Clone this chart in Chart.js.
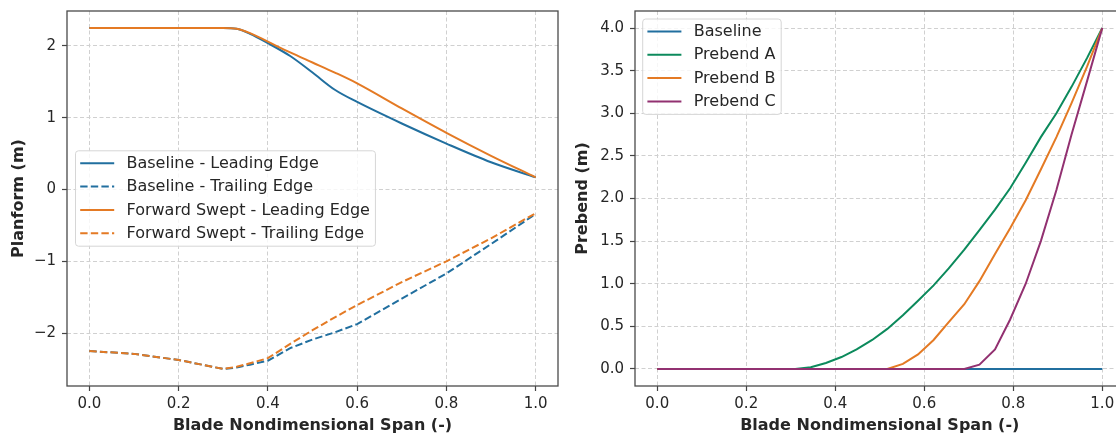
<!DOCTYPE html>
<html>
<head>
<meta charset="utf-8">
<title>Planform and Prebend</title>
<script src="https://cdn.jsdelivr.net/npm/chart.js@4.4.0/dist/chart.umd.min.js"></script>
<style>
  html, body { margin: 0; padding: 0; background: #fff; overflow: hidden; }
  #wrap { position: relative; width: 1116px; height: 434px; overflow: hidden; }
  #planform { position: absolute; left: 0; top: 0; }
  #prebend { position: absolute; left: 560px; top: 0; }
</style>
</head>
<body>
<div id="wrap">
  <canvas id="planform" width="560" height="434"></canvas>
  <canvas id="prebend" width="580" height="434"></canvas>
</div>
<script>
// ---- data ----
const spanL = [0, 0.1, 0.2, 0.3, 0.33, 0.36, 0.4, 0.45, 0.5, 0.55, 0.6, 0.7, 0.8, 0.9, 1.0];
const baseLE = [2.25, 2.25, 2.25, 2.25, 2.24, 2.17, 2.04, 1.86, 1.63, 1.39, 1.22, 0.92, 0.64, 0.38, 0.17];
const baseTE = [-2.25, -2.29, -2.375, -2.5, -2.48, -2.44, -2.385, -2.21, -2.09, -1.99, -1.875, -1.52, -1.17, -0.76, -0.34];
const fwdLE = [2.25, 2.25, 2.25, 2.25, 2.24, 2.18, 2.06, 1.91, 1.77, 1.63, 1.48, 1.13, 0.79, 0.47, 0.17];
const fwdTE = [-2.25, -2.29, -2.375, -2.5, -2.47, -2.42, -2.35, -2.15, -1.96, -1.78, -1.61, -1.29, -1.0, -0.68, -0.33];

const spanR = [0, 0.034, 0.069, 0.103, 0.138, 0.172, 0.207, 0.241, 0.276, 0.31,
  0.345, 0.379, 0.414, 0.448, 0.483, 0.517, 0.552, 0.586, 0.621, 0.655,
  0.69, 0.724, 0.759, 0.793, 0.828, 0.862, 0.897, 0.931, 0.966, 1.0];
const prebendBase = [0, 0, 0, 0, 0, 0, 0, 0, 0, 0,
  0, 0, 0, 0, 0, 0, 0, 0, 0, 0,
  0, 0, 0, 0, 0, 0, 0, 0, 0, 0];
const prebendA = [0, 0, 0, 0, 0, 0, 0, 0, 0, 0,
  0.02, 0.07, 0.14, 0.23, 0.34, 0.47, 0.63, 0.80, 0.98, 1.18,
  1.40, 1.63, 1.87, 2.12, 2.42, 2.72, 3.0, 3.31, 3.65, 4.0];
const prebendB = [0, 0, 0, 0, 0, 0, 0, 0, 0, 0,
  0, 0, 0, 0, 0, 0, 0.06, 0.17, 0.34, 0.55,
  0.76, 1.03, 1.35, 1.65, 1.98, 2.34, 2.72, 3.12, 3.55, 4.0];
const prebendC = [0, 0, 0, 0, 0, 0, 0, 0, 0, 0,
  0, 0, 0, 0, 0, 0, 0, 0, 0, 0,
  0, 0.05, 0.23, 0.58, 1.0, 1.5, 2.1, 2.75, 3.38, 4.0];

const spanTicks = [0, 0.2, 0.4, 0.6, 0.8, 1.0];
const planformTicks = [-2, -1, 0, 1, 2];
const prebendTicks = [0, 0.5, 1.0, 1.5, 2.0, 2.5, 3.0, 3.5, 4.0];

const planformLabels = ['Baseline - Leading Edge', 'Baseline - Trailing Edge',
  'Forward Swept - Leading Edge', 'Forward Swept - Trailing Edge'];
const prebendLabels = ['Baseline', 'Prebend A', 'Prebend B', 'Prebend C'];

const BLUE = '#216f9f', ORANGE = '#e47a24', GREEN = '#0c8a5c', PURPLE = '#923171';
const TEXT = '#262626';
const FONT = '"DejaVu Sans", "Liberation Sans", sans-serif';

function pts(xs, ys) {
  return xs.map((x, i) => ({ x: x, y: ys[i] }));
}

function line(label, xs, ys, color, dashed, order, smooth) {
  return {
    label: label,
    data: pts(xs, ys),
    borderColor: color,
    backgroundColor: color,
    borderWidth: 2,
    borderDash: dashed ? [7.4, 3.2] : [],
    pointRadius: 0,
    fill: false,
    order: order,
    cubicInterpolationMode: smooth ? 'monotone' : 'default',
    tension: 0
  };
}

// frame on all four sides + legend box like matplotlib
function framePlugin(legendOpts) {
  return {
    id: 'frameLegend',
    afterDraw(chart) {
      const ctx = chart.ctx;
      const a = chart.chartArea;
      ctx.save();
      ctx.strokeStyle = '#4a4a4a';
      ctx.lineWidth = 1.3;
      ctx.strokeRect(a.left, a.top, a.right - a.left, a.bottom - a.top);

      const ds = chart.data.datasets;
      ctx.font = '16px ' + FONT;
      let maxW = 0;
      ds.forEach(d => { maxW = Math.max(maxW, ctx.measureText(d.label).width); });
      const rowH = 23.3;
      const boxW = 4.7 + 34 + 12.3 + maxW + 5.5;
      const boxH = 12.5 + rowH * (ds.length - 1) + 13;
      const bx = a.left + legendOpts.dx;
      const by = legendOpts.center ? (a.top + a.bottom) / 2 - boxH / 2 : a.top + legendOpts.dy;

      ctx.beginPath();
      ctx.roundRect(bx, by, boxW, boxH, 3);
      ctx.fillStyle = 'rgba(255,255,255,0.8)';
      ctx.fill();
      ctx.strokeStyle = '#d6d6d6';
      ctx.lineWidth = 1;
      ctx.stroke();

      ds.forEach((d, i) => {
        const y = by + 12.5 + i * rowH;
        ctx.beginPath();
        ctx.setLineDash(d.borderDash || []);
        ctx.strokeStyle = d.borderColor;
        ctx.lineWidth = 2;
        ctx.moveTo(bx + 4.7, y);
        ctx.lineTo(bx + 4.7 + 34, y);
        ctx.stroke();
        ctx.setLineDash([]);
        ctx.fillStyle = TEXT;
        ctx.textBaseline = 'middle';
        ctx.textAlign = 'left';
        ctx.fillText(d.label, bx + 4.7 + 34 + 12.3, y + 0.5);
      });
      ctx.restore();
    }
  };
}

function axisX(tickVals) {
  return {
    type: 'linear',
    min: -0.05,
    max: 1.05,
    afterBuildTicks: s => { s.ticks = tickVals.map(v => ({ value: v })); },
    afterFit: s => { s.height = 48; s.paddingLeft = 0; s.paddingRight = 0; },
    ticks: {
      callback: v => v.toFixed(1),
      color: TEXT,
      font: { family: FONT, size: 15 },
      padding: 4,
      maxRotation: 0,
      autoSkip: false
    },
    grid: { color: '#d0d0d0', lineWidth: 1, drawTicks: true, tickLength: 5, tickColor: '#444', tickWidth: 1.2 },
    border: { display: false, dash: [4, 2.5] },
    title: {
      display: true,
      text: 'Blade Nondimensional Span (-)',
      color: TEXT,
      font: { family: FONT, size: 16, weight: 'bold', lineHeight: 1 },
      padding: { top: 0, bottom: 0 }
    }
  };
}

function axisY(min, max, tickVals, fmt, title, width, titlePad) {
  return {
    type: 'linear',
    min: min,
    max: max,
    afterBuildTicks: s => { s.ticks = tickVals.map(v => ({ value: v })); },
    afterFit: s => { s.width = width; s.paddingTop = 0; s.paddingBottom = 0; },
    ticks: {
      callback: fmt,
      color: TEXT,
      font: { family: FONT, size: 15 },
      padding: 6
    },
    grid: { color: '#d0d0d0', lineWidth: 1, drawTicks: true, tickLength: 5, tickColor: '#444', tickWidth: 1.2 },
    border: { display: false, dash: [4, 2.5] },
    title: {
      display: true,
      text: title,
      color: TEXT,
      font: { family: FONT, size: 16, weight: 'bold', lineHeight: 1.2 },
      padding: { top: titlePad, bottom: 0 }
    }
  };
}

const common = {
  responsive: false,
  animation: false,
  events: [],
  plugins: { legend: { display: false }, tooltip: { enabled: false } }
};

new Chart(document.getElementById('planform'), {
  type: 'line',
  data: {
    datasets: [
      line(planformLabels[0], spanL, baseLE, BLUE, false, 4, true),
      line(planformLabels[1], spanL, baseTE, BLUE, true, 3, false),
      line(planformLabels[2], spanL, fwdLE, ORANGE, false, 2, true),
      line(planformLabels[3], spanL, fwdTE, ORANGE, true, 1, false)
    ]
  },
  options: Object.assign({}, common, {
    layout: { padding: { left: 0, top: 11, right: 2, bottom: 0 } },
    scales: {
      x: axisX(spanTicks),
      y: axisY(-2.7375, 2.4875, planformTicks,
        v => (v < 0 ? '\u2212' + Math.abs(v) : String(v)), 'Planform (m)', 67, 9.4)
    }
  }),
  plugins: [framePlugin({ dx: 8.5, center: true })]
});

new Chart(document.getElementById('prebend'), {
  type: 'line',
  data: {
    datasets: [
      line(prebendLabels[0], spanR, prebendBase, BLUE, false, 4, false),
      line(prebendLabels[1], spanR, prebendA, GREEN, false, 3, false),
      line(prebendLabels[2], spanR, prebendB, ORANGE, false, 2, false),
      line(prebendLabels[3], spanR, prebendC, PURPLE, false, 1, false)
    ]
  },
  options: Object.assign({}, common, {
    layout: { padding: { left: 0, top: 11, right: 15.5, bottom: 0 } },
    scales: {
      x: axisX(spanTicks),
      y: axisY(-0.2, 4.2, prebendTicks, v => v.toFixed(1), 'Prebend (m)', 75, 13.4)
    }
  }),
  plugins: [framePlugin({ dx: 7.7, dy: 8, center: false })]
});
</script>
</body>
</html>
